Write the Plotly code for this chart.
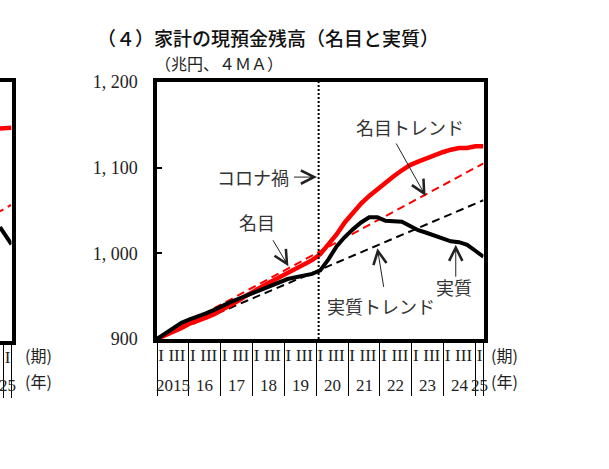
import plotly.graph_objects as go

# 2015 I ... 2025 I (四半期, 41本)
quarter_idx = list(range(41))

# 名目・実質 (兆円, 4MA)
nominal = [900, 904, 908, 913, 918, 921, 925, 929, 934, 940, 945, 951, 957, 962, 967, 972, 977, 982, 987, 992,
           999, 1010, 1022, 1036, 1047, 1058, 1067, 1075, 1082, 1090, 1097, 1103, 1107, 1111, 1115, 1118, 1121,
           1123, 1123, 1125, 1125]
real = [900, 906, 912, 919, 923, 926, 930, 934, 939, 943, 947, 951, 955, 958, 962, 966, 970, 972, 974, 976,
        980, 993, 1008, 1019, 1028, 1036, 1042, 1042, 1038, 1037, 1037, 1032, 1027, 1024, 1021, 1017, 1014,
        1013, 1010, 1003, 996]

# トレンド (始点と終点)
trend_x = [0, 40]
nominal_trend = [900, 1105]
real_trend = [900, 1062]

covid_q = 19.8

y_ticks = [900, 1000, 1100, 1200]
y_ticktext = ["900", "1, 000", "1, 100", "1, 200"]

q_ticktext = ["I", "III"]
year_labels = ["2015", "16", "17", "18", "19", "20", "21", "22", "23", "24", "25"]

# 左隣のグラフ(3)の右端
prev_x = [38.6, 39.6, 40]
prev_nominal = [1146, 1147, 1147]
prev_nominal_trend = [1050, 1056, 1058]
prev_real = [1032, 1018, 1012]

W, H = 609, 469
serif = "Liberation Serif"
jp = "Noto Sans CJK JP"

# ラベル用スロット (1四半期=1スロット)
lab_vals, lab_text = [], []
for k in range(len(year_labels)):
    lab_vals.append(4 * k + 0.5)
    lab_text.append(q_ticktext[0])
    if k < len(year_labels) - 1:
        lab_vals.append(4 * k + 2.5)
        lab_text.append(q_ticktext[1])
sep_vals = [4 * k for k in range(len(year_labels))] + [41]
year_pos = [4 * k + 2 for k in range(len(year_labels) - 1)] + [40.5]

fig = go.Figure()

fig.add_trace(go.Scatter(x=trend_x, y=real_trend, mode="lines", xaxis="x", yaxis="y",
                         line=dict(color="black", width=2, dash="8px,5px")))
fig.add_trace(go.Scatter(x=trend_x, y=nominal_trend, mode="lines", xaxis="x", yaxis="y",
                         line=dict(color="#ff0000", width=2, dash="8px,5px")))
fig.add_trace(go.Scatter(x=quarter_idx, y=nominal, mode="lines", xaxis="x", yaxis="y",
                         line=dict(color="#ff0000", width=4.5)))
fig.add_trace(go.Scatter(x=quarter_idx, y=real, mode="lines", xaxis="x", yaxis="y",
                         line=dict(color="black", width=4)))
# ラベル軸を出すためのダミー
fig.add_trace(go.Scatter(x=[0, 41], y=[900, 900], mode="none", xaxis="x3", yaxis="y",
                         hoverinfo="skip"))

# 左隣
fig.add_trace(go.Scatter(x=prev_x, y=prev_nominal_trend, mode="lines", xaxis="x2", yaxis="y2",
                         line=dict(color="#ff0000", width=2, dash="4px,5px")))
fig.add_trace(go.Scatter(x=prev_x, y=prev_nominal, mode="lines", xaxis="x2", yaxis="y2",
                         line=dict(color="#ff0000", width=4.5)))
fig.add_trace(go.Scatter(x=prev_x, y=prev_real, mode="lines", xaxis="x2", yaxis="y2",
                         line=dict(color="black", width=4)))
fig.add_trace(go.Scatter(x=[39.55, 41], y=[900, 900], mode="none", xaxis="x4", yaxis="y2",
                         hoverinfo="skip"))

x_dom = [157 / W, 483.5 / W]
y_dom = [(H - 339) / H, (H - 82) / H]
prev_dom = [0, 11.5 / W]

frame = dict(showline=True, linecolor="black", linewidth=3.5, showgrid=False, zeroline=False)
label_axis = dict(showline=False, showgrid=False, zeroline=False, ticks="",
                  tickvals=lab_vals, ticktext=lab_text, ticklabelstandoff=4,
                  tickfont=dict(family=serif, size=17, color="#222"),
                  minor=dict(tickvals=sep_vals, ticks="outside", ticklen=56, tickwidth=1, tickcolor="black"))

fig.update_layout(
    width=W, height=H,
    margin=dict(l=0, r=0, t=0, b=0, autoexpand=False),
    paper_bgcolor="white", plot_bgcolor="white",
    showlegend=False,
    xaxis=dict(domain=x_dom, range=[0, 40], anchor="y", mirror=True, showticklabels=False, ticks="", **frame),
    yaxis=dict(domain=y_dom, range=[900, 1200], anchor="x", mirror=True,
               tickvals=y_ticks, ticktext=y_ticktext, ticks="inside", ticklen=5, tickwidth=1.5,
               tickcolor="black", ticklabelstandoff=12,
               tickfont=dict(family=serif, size=18, color="#222"), **frame),
    xaxis3=dict(overlaying="x", anchor="y", range=[0, 41], side="bottom", **label_axis),
    xaxis2=dict(domain=prev_dom, range=[38.6, 40], anchor="y2", mirror=True, showticklabels=False, ticks="",
                **frame),
    yaxis2=dict(domain=[(H - 341) / H, (H - 82) / H], range=[900, 1200], anchor="x2", side="right",
                showticklabels=False, ticks="", **frame),
    xaxis4=dict(overlaying="x2", anchor="y2", range=[39.55, 41], side="bottom", **label_axis),
)

# コロナ禍の点線
fig.add_shape(type="line", xref="x", yref="y", x0=covid_q, x1=covid_q, y0=900, y1=1200,
              line=dict(color="black", width=2, dash="2px,2px"))

txt = dict(family=jp, size=18, color="#333")
notes = [
    ("名目トレンド", 31.0, 1148),
    ("コロナ禍", 11.7, 1089),
    ("名目", 12.2, 1037),
    ("実質トレンド", 27.5, 938),
    ("実質", 36.4, 961),
]
for t, x, y in notes:
    fig.add_annotation(text=t, x=x, y=y, xref="x", yref="y", showarrow=False, font=txt,
                       xanchor="center", yanchor="middle")

arrows = [
    (29.2, 1130, 32.9, 1067),
    (16.6, 1089, 19.6, 1089),
    (14.1, 1017, 16.1, 985),
    (27.8, 959, 27.0, 1006),
    (36.6, 971, 36.6, 1010),
]
for ax, ay, x, y in arrows:
    fig.add_annotation(text="", x=x, y=y, ax=ax, ay=ay, xref="x", yref="y", axref="x", ayref="y",
                       showarrow=True, arrowhead=5, arrowsize=2.6, arrowwidth=1, arrowcolor="#222")

# 年
yr = dict(showarrow=False, xanchor="center", yanchor="middle", yref="paper",
          font=dict(family=serif, size=17, color="#222"))
for lab, pos in zip(year_labels, year_pos):
    fig.add_annotation(text=lab, x=pos, y=(H - 385) / H, xref="x3", **yr)
fig.add_annotation(text=year_labels[-1], x=year_pos[-1], y=(H - 385) / H, xref="x4", **yr)

for xp in [504 / W, 38 / W]:
    fig.add_annotation(text="(期)", x=xp, y=(H - 355) / H, xref="paper", yref="paper", showarrow=False,
                       xanchor="center", yanchor="middle", font=dict(family=jp, size=16, color="#222"))
    fig.add_annotation(text="(年)", x=xp, y=(H - 381) / H, xref="paper", yref="paper", showarrow=False,
                       xanchor="center", yanchor="middle", font=dict(family=jp, size=16, color="#222"))

fig.add_annotation(text="（４）家計の現預金残高（名目と実質）", x=95 / W, y=(H - 37.5) / H,
                   xref="paper", yref="paper", xanchor="left", yanchor="middle", showarrow=False,
                   font=dict(family=jp, size=19, color="#111", weight=500))
fig.add_annotation(text="（兆円、４ＭＡ）", x=153 / W, y=(H - 63) / H,
                   xref="paper", yref="paper", xanchor="left", yanchor="middle", showarrow=False,
                   font=dict(family=jp, size=16, color="#222"))

# ページ余白を消して、図を左上にそろえる
fig.write_html("out.html", config={"displayModeBar": False},
               post_script="document.body.style.margin = '0px';")
